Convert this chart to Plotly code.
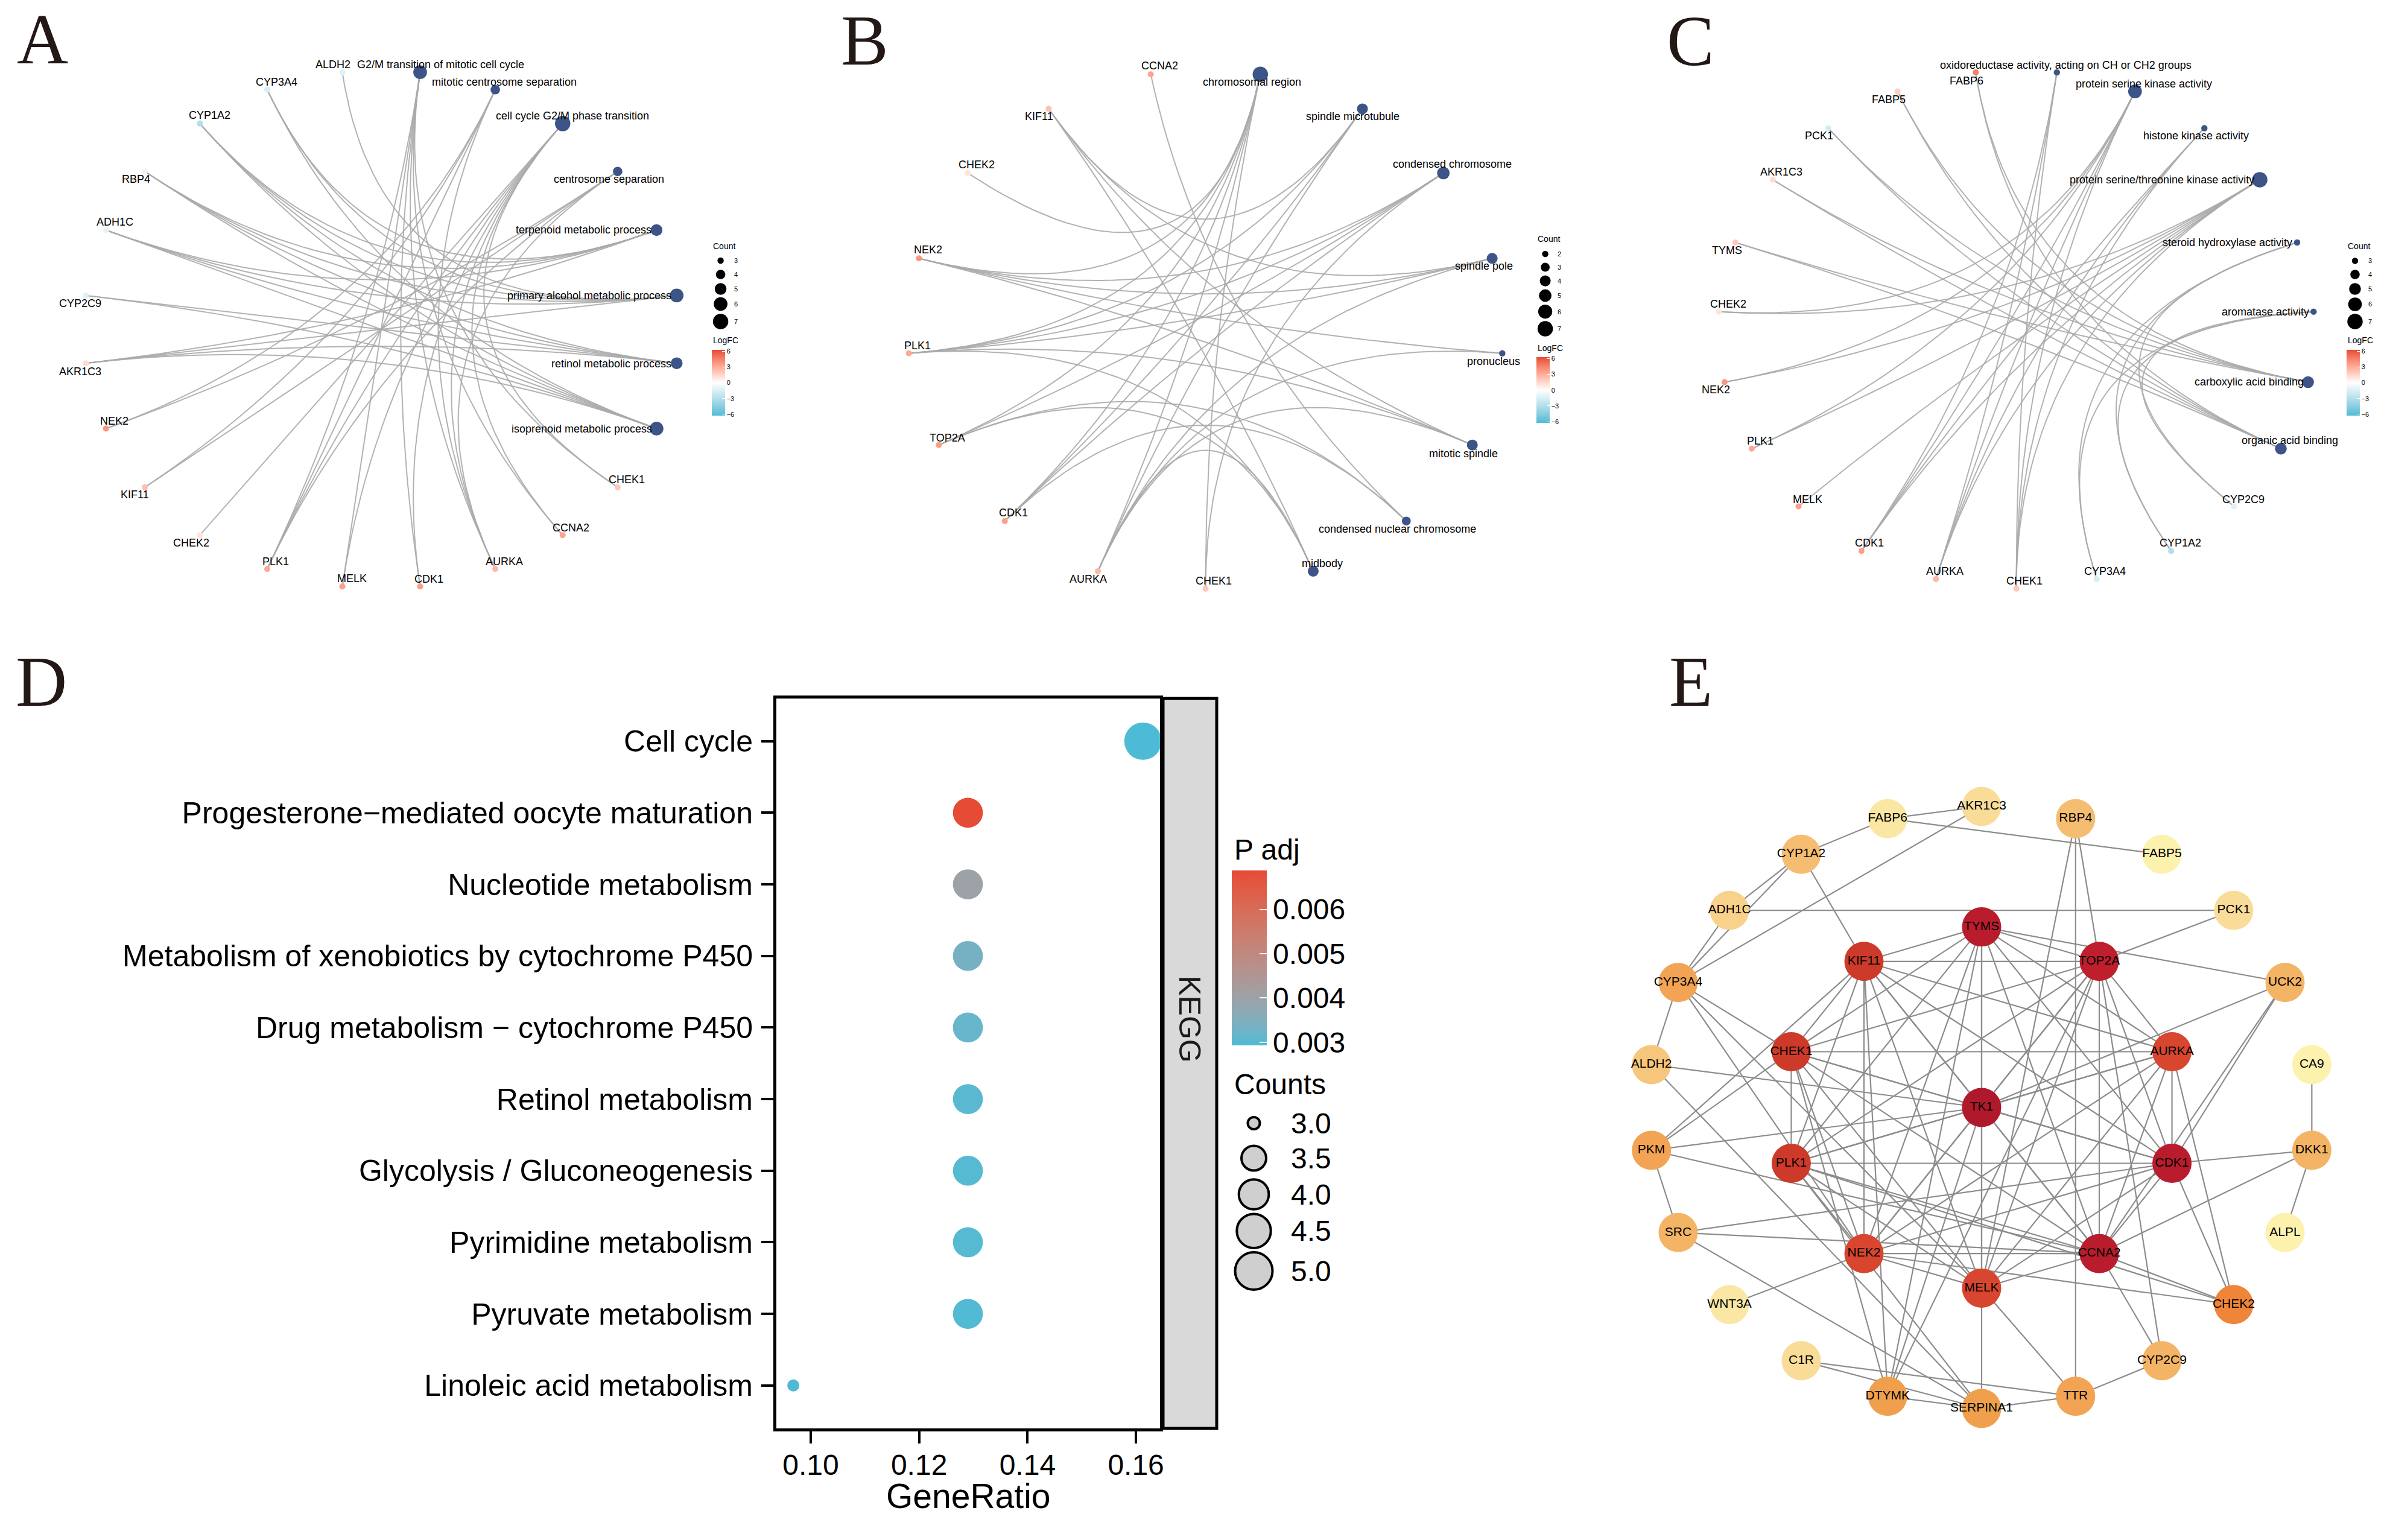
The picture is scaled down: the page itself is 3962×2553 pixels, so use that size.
import math
import plotly.graph_objects as go

W, H = 3962, 2553

# ===================== DATA =====================
# gene log fold changes (shared by panels A-C)
genes_all = ["ALDH2", "CYP3A4", "CYP1A2", "RBP4", "ADH1C", "CYP2C9", "AKR1C3", "NEK2",
             "KIF11", "CHEK2", "PLK1", "MELK", "CDK1", "AURKA", "CCNA2", "CHEK1",
             "TOP2A", "TYMS", "PCK1", "FABP5", "FABP6"]
logfc_all = [-1.2, -1.6, -3.0, -0.8, -1.1, -1.3, 1.3, 3.8,
             2.3, 1.0, 3.2, 3.5, 3.5, 2.6, 3.3, 2.0,
             3.6, 2.0, -1.8, 1.8, 4.6]

# Panel A: GO biological process
a_terms = ["G2/M transition of mitotic cell cycle", "mitotic centrosome separation",
           "cell cycle G2/M phase transition", "centrosome separation",
           "terpenoid metabolic process", "primary alcohol metabolic process",
           "retinol metabolic process", "isoprenoid metabolic process"]
a_genes = ["CHEK1", "CCNA2", "AURKA", "CDK1", "MELK", "PLK1", "CHEK2", "KIF11",
           "NEK2", "AKR1C3", "CYP2C9", "ADH1C", "RBP4", "CYP1A2", "CYP3A4", "ALDH2"]
a_members = [
    ["CHEK1", "CCNA2", "AURKA", "CDK1", "MELK", "PLK1"],
    ["PLK1", "KIF11", "NEK2", "AURKA"],
    ["CHEK1", "CCNA2", "AURKA", "CDK1", "MELK", "PLK1", "CHEK2"],
    ["PLK1", "KIF11", "NEK2", "AURKA"],
    ["AKR1C3", "ADH1C", "RBP4", "CYP1A2", "CYP3A4"],
    ["AKR1C3", "ADH1C", "RBP4", "CYP1A2", "CYP3A4", "ALDH2"],
    ["AKR1C3", "CYP2C9", "ADH1C", "RBP4", "CYP1A2"],
    ["AKR1C3", "CYP2C9", "ADH1C", "RBP4", "CYP1A2", "CYP3A4"],
]
a_count_breaks = [3, 4, 5, 6, 7]

# Panel B: GO cellular component
b_terms = ["chromosomal region", "spindle microtubule", "condensed chromosome", "spindle pole",
           "pronucleus", "mitotic spindle", "condensed nuclear chromosome", "midbody"]
b_genes = ["CHEK1", "AURKA", "CDK1", "TOP2A", "PLK1", "NEK2", "CHEK2", "KIF11", "CCNA2"]
b_members = [
    ["CHEK1", "AURKA", "CDK1", "TOP2A", "PLK1", "NEK2", "CHEK2"],
    ["AURKA", "CDK1", "PLK1", "KIF11"],
    ["CHEK1", "CDK1", "TOP2A", "PLK1", "NEK2"],
    ["AURKA", "PLK1", "NEK2", "KIF11"],
    ["NEK2", "AURKA"],
    ["AURKA", "PLK1", "NEK2", "KIF11"],
    ["CDK1", "TOP2A", "CCNA2"],
    ["AURKA", "TOP2A", "PLK1", "KIF11"],
]
b_count_breaks = [2, 3, 4, 5, 6, 7]

# Panel C: GO molecular function
c_terms = ["oxidoreductase activity, acting on CH or CH2 groups", "protein serine kinase activity",
           "histone kinase activity", "protein serine/threonine kinase activity",
           "steroid hydroxylase activity", "aromatase activity",
           "carboxylic acid binding", "organic acid binding"]
c_genes = ["CYP2C9", "CYP1A2", "CYP3A4", "CHEK1", "AURKA", "CDK1", "MELK", "PLK1",
           "NEK2", "CHEK2", "TYMS", "AKR1C3", "PCK1", "FABP5", "FABP6"]
c_members = [
    ["AURKA", "CDK1", "CHEK1"],
    ["CHEK1", "AURKA", "CDK1", "PLK1", "NEK2", "CHEK2"],
    ["AURKA", "CDK1", "CHEK1"],
    ["CHEK1", "AURKA", "CDK1", "MELK", "PLK1", "NEK2", "CHEK2"],
    ["CYP2C9", "CYP1A2", "CYP3A4"],
    ["CYP2C9", "CYP1A2", "CYP3A4"],
    ["FABP6", "FABP5", "PCK1", "AKR1C3", "TYMS"],
    ["FABP6", "FABP5", "PCK1", "AKR1C3", "TYMS"],
]
c_count_breaks = [3, 4, 5, 6, 7]

# Panel D: KEGG dot plot
kegg_terms = ["Cell cycle", "Progesterone\u2212mediated oocyte maturation", "Nucleotide metabolism",
              "Metabolism of xenobiotics by cytochrome P450", "Drug metabolism \u2212 cytochrome P450",
              "Retinol metabolism", "Glycolysis / Gluconeogenesis", "Pyrimidine metabolism",
              "Pyruvate metabolism", "Linoleic acid metabolism"]
kegg_ratio = [0.1613, 0.1290, 0.1290, 0.1290, 0.1290, 0.1290, 0.1290, 0.1290, 0.1290, 0.0968]
kegg_count = [5, 4, 4, 4, 4, 4, 4, 4, 4, 3]
kegg_padj = [0.00293, 0.00688, 0.00400, 0.00335, 0.00318, 0.00305, 0.00300, 0.00300, 0.00298, 0.00296]
d_xticks = [0.10, 0.12, 0.14, 0.16]
d_padj_ticks = [0.003, 0.004, 0.005, 0.006]
d_count_breaks = [3.0, 3.5, 4.0, 4.5, 5.0]

# Panel E: PPI network
e_hub = "TK1"
e_ring1 = ["TYMS", "TOP2A", "AURKA", "CDK1", "CCNA2", "MELK", "NEK2", "PLK1", "CHEK1", "KIF11"]
e_ring2 = ["AKR1C3", "RBP4", "FABP5", "PCK1", "UCK2", "CA9", "DKK1", "ALPL", "CHEK2", "CYP2C9",
           "TTR", "SERPINA1", "DTYMK", "C1R", "WNT3A", "SRC", "PKM", "ALDH2", "CYP3A4", "ADH1C",
           "CYP1A2", "FABP6"]
e_degree_nodes = ["TK1", "TYMS", "TOP2A", "AURKA", "CDK1", "CCNA2", "MELK", "NEK2", "PLK1", "CHEK1",
                  "KIF11", "AKR1C3", "RBP4", "FABP5", "PCK1", "UCK2", "CA9", "DKK1", "ALPL", "CHEK2",
                  "CYP2C9", "TTR", "SERPINA1", "DTYMK", "C1R", "WNT3A", "SRC", "PKM", "ALDH2",
                  "CYP3A4", "ADH1C", "CYP1A2", "FABP6"]
e_degree = [23, 22, 21, 18, 22, 22, 18, 18, 19, 19,
            19, 3, 6, 1, 3, 7, 1, 7, 1, 12,
            7, 9, 10, 10, 3, 2, 7, 9, 5,
            9, 4, 6, 2]
e_links = {
    "TK1": "TYMS TOP2A AURKA CDK1 CCNA2 MELK NEK2 PLK1 CHEK1 KIF11 ALDH2 PKM DTYMK UCK2",
    "TYMS": "TOP2A AURKA CDK1 CCNA2 MELK NEK2 PLK1 CHEK1 KIF11 DTYMK UCK2",
    "TOP2A": "AURKA CDK1 CCNA2 MELK NEK2 PLK1 CHEK1 KIF11 DTYMK CYP2C9 PCK1 RBP4",
    "AURKA": "CDK1 CCNA2 MELK NEK2 PLK1 CHEK1 KIF11 CHEK2",
    "CDK1": "CCNA2 MELK NEK2 PLK1 CHEK1 KIF11 SRC CHEK2 DKK1 UCK2",
    "CCNA2": "MELK NEK2 PLK1 CHEK1 KIF11 PKM SRC CHEK2 DKK1 UCK2 CYP2C9",
    "MELK": "NEK2 PLK1 CHEK1 KIF11 CYP3A4 SERPINA1 TTR RBP4",
    "NEK2": "PLK1 CHEK1 KIF11 CYP3A4 WNT3A CHEK2",
    "PLK1": "CHEK1 KIF11 SERPINA1 CHEK2",
    "CHEK1": "KIF11 PKM DTYMK CYP3A4",
    "KIF11": "CYP1A2 PKM DTYMK",
    "AKR1C3": "FABP6 CYP3A4",
    "FABP6": "FABP5 CYP1A2",
    "CYP1A2": "ADH1C CYP3A4",
    "ADH1C": "CYP3A4 PCK1",
    "ALDH2": "CYP3A4 SERPINA1",
    "PKM": "SRC",
    "SRC": "SERPINA1",
    "C1R": "SERPINA1 TTR",
    "DTYMK": "SERPINA1",
    "SERPINA1": "TTR",
    "TTR": "RBP4 CYP2C9",
    "DKK1": "CA9 ALPL",
}

# ===================== STYLE / GEOMETRY =====================
FONT = "Liberation Sans, Arial, Helvetica, sans-serif"
SERIF = "Liberation Serif, Times New Roman, serif"
TERM_COL = "#3C5488"
LOW, MID, HIGH = "#4DBBD5", "#FFFFFF", "#E64B35"


def hex2rgb(h):
    h = h.lstrip('#')
    return tuple(int(h[i:i + 2], 16) for i in (0, 2, 4))


def _lin(c):
    c = c / 255.0
    return c / 12.92 if c <= 0.04045 else ((c + 0.055) / 1.055) ** 2.4


def _gam(c):
    c = 12.92 * c if c <= 0.0031308 else 1.055 * (max(c, 0) ** (1 / 2.4)) - 0.055
    return int(max(0, min(255, round(c * 255))))


def rgb2lab(rgb):
    r, g, b = [_lin(v) for v in rgb]
    X = (0.4124 * r + 0.3576 * g + 0.1805 * b) / 0.95047
    Y = (0.2126 * r + 0.7152 * g + 0.0722 * b)
    Z = (0.0193 * r + 0.1192 * g + 0.9505 * b) / 1.08883

    def f(t):
        return t ** (1 / 3) if t > 216 / 24389 else (24389 / 27 * t + 16) / 116
    fx, fy, fz = f(X), f(Y), f(Z)
    return (116 * fy - 16, 500 * (fx - fy), 200 * (fy - fz))


def lab2hex(lab):
    L, a, b = lab
    fy = (L + 16) / 116
    fx = fy + a / 500
    fz = fy - b / 200

    def finv(t):
        return t ** 3 if t ** 3 > 216 / 24389 else (116 * t - 16) / (24389 / 27)
    X = finv(fx) * 0.95047
    Y = finv(fy)
    Z = finv(fz) * 1.08883
    r = 3.2406 * X - 1.5372 * Y - 0.4986 * Z
    g = -0.9689 * X + 1.8758 * Y + 0.0415 * Z
    bb = 0.0557 * X - 0.2040 * Y + 1.0570 * Z
    return '#%02x%02x%02x' % (_gam(r), _gam(g), _gam(bb))


def ramp(c1, c2, t):
    l1 = rgb2lab(hex2rgb(c1))
    l2 = rgb2lab(hex2rgb(c2))
    return lab2hex(tuple(l1[i] + (l2[i] - l1[i]) * t for i in range(3)))


fc_scale = []
for i in range(21):
    t = i / 20
    col = ramp(LOW, MID, t / 0.5) if t < 0.5 else ramp(MID, HIGH, (t - 0.5) / 0.5)
    fc_scale.append([t, col])
padj_scale = [[i / 20, ramp(LOW, HIGH, i / 20)] for i in range(21)]
FC_LIM = 6.25

e_scale = [[0.0, "#FCF2AE"], [0.09, "#F9DC98"], [0.18, "#F7C67E"], [0.27, "#F4B465"],
           [0.36, "#F2A455"], [0.41, "#F0A04D"], [0.5, "#EE8538"], [0.77, "#D9472F"],
           [0.82, "#CE3A2A"], [0.91, "#BF1F2D"], [1.0, "#B0192C"]]


def px(x):
    return x / W


def py(y):
    return 1 - y / H


fc_of = dict(zip(genes_all, logfc_all))

fig = go.Figure()
layout = dict(width=W, height=H, margin=dict(l=0, r=0, t=0, b=0, autoexpand=False),
              paper_bgcolor="white", plot_bgcolor="rgba(0,0,0,0)", showlegend=False)
annotations = []
shapes = []

# full-figure pixel axes for legend keys
layout["xaxis6"] = dict(domain=[0, 1], range=[0, W], visible=False, anchor="y6", fixedrange=True)
layout["yaxis6"] = dict(domain=[0, 1], range=[H, 0], visible=False, anchor="x6", fixedrange=True)


def ring_pos(names, start=None, r=1.0):
    n = len(names)
    step = 360.0 / n
    if start is None:
        start = 90 - step / 2
    out = {}
    for k, nm in enumerate(names):
        th = math.radians(start - step * k)
        out[nm] = (r * math.cos(th), r * math.sin(th))
    return out


SXU, SYU = 494.0, 430.0   # px per unit of the circular layout
HW, HH = 600.0, 540.0


def size_fn(c, lo, hi, dmin=10.5, dmax=25.5):
    return math.sqrt(dmin ** 2 + (dmax ** 2 - dmin ** 2) * (c - lo) / (hi - lo))


label_off = {
    1: {"ALDH2": (-16, -13), "CYP3A4": (16, -13), "CYP1A2": (16, -14), "RBP4": (-15, 13),
        "ADH1C": (15, -13), "CYP2C9": (-9, 13), "AKR1C3": (-9, 14), "NEK2": (14, -13),
        "KIF11": (-17, 12), "CHEK2": (-14, 13), "PLK1": (14, -12), "MELK": (16, -13),
        "CDK1": (15, -12), "AURKA": (15, -12), "CCNA2": (14, -12), "CHEK1": (15, -13),
        "G2/M transition of mitotic cell cycle": (34, -13), "mitotic centrosome separation": (15, -13),
        "cell cycle G2/M phase transition": (16, -13), "centrosome separation": (-14, 13),
        "terpenoid metabolic process": (-121, 0), "primary alcohol metabolic process": (-145, 0),
        "retinol metabolic process": (-108, 1), "isoprenoid metabolic process": (-124, 0)},
    2: {"CCNA2": (15, -14), "KIF11": (-16, 13), "CHEK2": (15, -14), "NEK2": (15, -14),
        "PLK1": (14, -13), "TOP2A": (14, -12), "CDK1": (14, -14), "AURKA": (-16, 13),
        "CHEK1": (13, -13), "chromosomal region": (-14, 13), "spindle microtubule": (-16, 13),
        "condensed chromosome": (15, -15), "spindle pole": (-14, 13), "pronucleus": (-14, 13),
        "mitotic spindle": (-15, 14), "condensed nuclear chromosome": (-15, 13), "midbody": (15, -13)},
    3: {"FABP6": (-15, 14), "oxidoreductase activity, acting on CH or CH2 groups": (15, -12),
        "FABP5": (-15, 13), "PCK1": (-15, 13), "AKR1C3": (14, -13), "TYMS": (-14, 13),
        "CHEK2": (15, -13), "NEK2": (-14, 13), "PLK1": (14, -13), "MELK": (15, -12),
        "CDK1": (13, -13), "AURKA": (15, -13), "CHEK1": (13, -13),
        "protein serine kinase activity": (15, -13), "histone kinase activity": (-14, 13),
        "protein serine/threonine kinase activity": (-162, 0), "steroid hydroxylase activity": (-115, 0),
        "aromatase activity": (-80, 0), "carboxylic acid binding": (-98, 0),
        "organic acid binding": (15, -14), "CYP2C9": (15, -12), "CYP1A2": (15, -13), "CYP3A4": (14, -13)},
}

cnet_specs = [
    (1, a_terms, a_genes, a_members, (632, 546), a_count_breaks,
     dict(cx=1180, ty=408, kx=1194.6, ky=[432, 455, 479, 504, 533], lx=1215,
          fcy=564, cbx=1180, cby=634.5)),
    (2, b_terms, b_genes, b_members, (1998.5, 546), b_count_breaks,
     dict(cx=2547, ty=396, kx=2561.6, ky=[421, 443, 465.6, 490, 516.6, 545], lx=2580,
          fcy=577, cbx=2547, cby=646.75)),
    (3, c_terms, c_genes, c_members, (3342.5, 546), c_count_breaks,
     dict(cx=3890, ty=408, kx=3904, ky=[432.4, 455, 479, 504.5, 533], lx=3924,
          fcy=564, cbx=3890, cby=634.5)),
]

for idx, terms, genes, members, (cx, cy), breaks, lg in cnet_specs:
    xn = "x" if idx == 1 else f"x{idx}"
    yn = "y" if idx == 1 else f"y{idx}"
    xa = "xaxis" if idx == 1 else f"xaxis{idx}"
    ya = "yaxis" if idx == 1 else f"yaxis{idx}"
    ca = "coloraxis" if idx == 1 else f"coloraxis{idx}"
    layout[xa] = dict(domain=[px(cx - HW), px(cx + HW)], range=[-HW / SXU, HW / SXU],
                      visible=False, anchor=yn, fixedrange=True)
    layout[ya] = dict(domain=[py(cy + HH), py(cy - HH)], range=[-HH / SYU, HH / SYU],
                      visible=False, anchor=xn, fixedrange=True)
    nodes = list(terms) + list(genes)
    pos = ring_pos(nodes)
    lo, hi = breaks[0], breaks[-1]
    ex, ey = [], []
    for term, mem in zip(terms, members):
        x0, y0 = pos[term]
        for g in mem:
            x2, y2 = pos[g]
            for k in range(41):
                t = k / 40
                ex.append((1 - t) ** 2 * x0 + t ** 2 * x2)
                ey.append((1 - t) ** 2 * y0 + t ** 2 * y2)
            ex.append(None)
            ey.append(None)
    fig.add_trace(go.Scatter(x=ex, y=ey, mode="lines", xaxis=xn, yaxis=yn, hoverinfo="skip",
                             line=dict(color="rgba(170,170,170,0.9)", width=2)))
    fig.add_trace(go.Scatter(x=[pos[g][0] for g in genes], y=[pos[g][1] for g in genes],
                             mode="markers", xaxis=xn, yaxis=yn, hoverinfo="skip", cliponaxis=False,
                             marker=dict(size=10, color=[fc_of[g] for g in genes], coloraxis=ca,
                                         opacity=1, line=dict(width=0))))
    counts = [len(m) for m in members]
    fig.add_trace(go.Scatter(x=[pos[t][0] for t in terms], y=[pos[t][1] for t in terms],
                             mode="markers", xaxis=xn, yaxis=yn, hoverinfo="skip", cliponaxis=False,
                             marker=dict(size=[size_fn(c, lo, hi) for c in counts], color=TERM_COL,
                                         opacity=1, line=dict(width=0))))
    for nm in nodes:
        dx, dy = label_off[idx].get(nm, (0, -14))
        annotations.append(dict(x=pos[nm][0], y=pos[nm][1], xref=xn, yref=yn, text=nm,
                                showarrow=False, xshift=dx, yshift=-dy, xanchor="center",
                                yanchor="middle", font=dict(family=FONT, size=18, color="black")))
    layout[ca] = dict(colorscale=fc_scale, cmin=-FC_LIM, cmax=FC_LIM,
                      colorbar=dict(x=px(lg["cbx"]), xanchor="left", y=py(lg["cby"]), yanchor="middle",
                                    thickness=22, thicknessmode="pixels", len=109, lenmode="pixels",
                                    xpad=0, ypad=0, outlinewidth=0, borderwidth=0,
                                    tickvals=[6, 3, 0, -3, -6],
                                    ticktext=["6", "3", "0", "\u22123", "\u22126"],
                                    ticks="inside", ticklen=5, tickcolor="white", tickwidth=1,
                                    tickfont=dict(family=FONT, size=11, color="black")))
    annotations.append(dict(x=px(lg["cx"]), y=py(lg["ty"]), xref="paper", yref="paper", text="Count",
                            showarrow=False, xanchor="left", yanchor="middle",
                            font=dict(family=FONT, size=14, color="black")))
    annotations.append(dict(x=px(lg["cx"]), y=py(lg["fcy"]), xref="paper", yref="paper", text="LogFC",
                            showarrow=False, xanchor="left", yanchor="middle",
                            font=dict(family=FONT, size=14, color="black")))
    fig.add_trace(go.Scatter(x=[lg["kx"]] * len(breaks), y=lg["ky"], mode="markers", xaxis="x6",
                             yaxis="y6", hoverinfo="skip", cliponaxis=False,
                             marker=dict(size=[size_fn(b, lo, hi) for b in breaks], color="black",
                                         opacity=1, line=dict(width=0))))
    for b, yy in zip(breaks, lg["ky"]):
        annotations.append(dict(x=px(lg["lx"]), y=py(yy), xref="paper", yref="paper", text=str(b),
                                showarrow=False, xanchor="left", yanchor="middle",
                                font=dict(family=FONT, size=11, color="black")))

# ===================== PANEL D =====================
DX0, DX1, DY0, DY1 = 1287, 1923, 1157.5, 2368
layout["xaxis4"] = dict(domain=[px(DX0), px(DX1)], range=[0.09367, 0.16444], anchor="y4",
                        showgrid=False, zeroline=False, showline=True, linewidth=5, linecolor="black",
                        mirror=True, ticks="outside", ticklen=20, tickwidth=4, tickcolor="black",
                        tickvals=d_xticks, ticktext=["%.2f" % v for v in d_xticks], ticklabelstandoff=-6,
                        tickfont=dict(family=FONT, size=48, color="black"), fixedrange=True)
layout["yaxis4"] = dict(domain=[py(DY1), py(DY0)], range=[10.6, 0.4], anchor="x4",
                        showgrid=False, zeroline=False, showline=True, linewidth=5, linecolor="black",
                        mirror=True, ticks="outside", ticklen=20, tickwidth=4, tickcolor="black",
                        tickvals=list(range(1, len(kegg_terms) + 1)), ticktext=kegg_terms,
                        ticklabelstandoff=4,
                        tickfont=dict(family=FONT, size=50, color="black"), fixedrange=True)


def dsize(c):
    return 20 + 42 * math.sqrt((c - 3.0) / 2.0)


fig.add_trace(go.Scatter(x=kegg_ratio, y=list(range(1, len(kegg_terms) + 1)), mode="markers",
                         xaxis="x4", yaxis="y4", hoverinfo="skip", cliponaxis=False,
                         marker=dict(size=[dsize(c) for c in kegg_count], color=kegg_padj,
                                     coloraxis="coloraxis4", opacity=1, line=dict(width=0))))
layout["coloraxis4"] = dict(colorscale=padj_scale, cmin=min(kegg_padj), cmax=max(kegg_padj),
                            colorbar=dict(x=px(2042), xanchor="left", y=py(1588), yanchor="middle",
                                          thickness=58, thicknessmode="pixels", len=290, lenmode="pixels",
                                          xpad=0, ypad=0, outlinewidth=0, borderwidth=0,
                                          tickvals=d_padj_ticks, ticktext=["%.3f" % v for v in d_padj_ticks],
                                          ticks="inside", ticklen=12, tickcolor="white", tickwidth=2,
                                          tickfont=dict(family=FONT, size=48, color="black")))
shapes.append(dict(type="rect", xref="paper", yref="paper", x0=px(1928), x1=px(2017),
                   y0=py(DY1), y1=py(DY0), fillcolor="#D9D9D9", line=dict(color="black", width=5)))
annotations.append(dict(x=px(1972.5), y=py(1762.7), xref="paper", yref="paper", text="KEGG",
                        textangle=90, showarrow=False, font=dict(family=FONT, size=50, color="#1A1A1A")))
annotations.append(dict(x=px(1605), y=py(2514), xref="paper", yref="paper", text="GeneRatio",
                        showarrow=False, font=dict(family=FONT, size=57, color="black")))
annotations.append(dict(x=px(2043.7), y=py(1408.6), xref="paper", yref="paper", text="P adj",
                        showarrow=False, xanchor="left", yanchor="middle",
                        font=dict(family=FONT, size=48, color="black")))
annotations.append(dict(x=px(2043.7), y=py(1797), xref="paper", yref="paper", text="Counts",
                        showarrow=False, xanchor="left", yanchor="middle",
                        font=dict(family=FONT, size=48, color="black")))
d_leg_y = [1862, 1920, 1980, 2040.7, 2107]
fig.add_trace(go.Scatter(x=[2078.5] * len(d_count_breaks), y=d_leg_y, mode="markers", xaxis="x6",
                         yaxis="y6", hoverinfo="skip", cliponaxis=False,
                         marker=dict(size=[dsize(c) for c in d_count_breaks], color="#CFCFCF",
                                     opacity=1, line=dict(color="black", width=4))))
for c, yy in zip(d_count_breaks, d_leg_y):
    annotations.append(dict(x=px(2137.5), y=py(yy), xref="paper", yref="paper", text="%.1f" % c,
                            showarrow=False, xanchor="left", yanchor="middle",
                            font=dict(family=FONT, size=48, color="black")))

# ===================== PANEL E =====================
ECX, ECY, ESX, ESY = 3285.0, 1836.0, 553.0, 499.0
EHW, EHH = 670.0, 610.0
layout["xaxis5"] = dict(domain=[px(ECX - EHW), px(ECX + EHW)], range=[-EHW / ESX, EHW / ESX],
                        visible=False, anchor="y5", fixedrange=True)
layout["yaxis5"] = dict(domain=[py(ECY + EHH), py(ECY - EHH)], range=[-EHH / ESY, EHH / ESY],
                        visible=False, anchor="x5", fixedrange=True)
e_pos = {e_hub: (0.0, 0.0)}
e_pos.update(ring_pos(e_ring1, start=90, r=0.6))
e_pos.update(ring_pos(e_ring2, start=90, r=1.0))
lx, ly = [], []
for a, targets in e_links.items():
    for b in targets.split():
        lx += [e_pos[a][0], e_pos[b][0], None]
        ly += [e_pos[a][1], e_pos[b][1], None]
fig.add_trace(go.Scatter(x=lx, y=ly, mode="lines", xaxis="x5", yaxis="y5", hoverinfo="skip",
                         line=dict(color="#8C8C8C", width=2.2)))
fig.add_trace(go.Scatter(x=[e_pos[n][0] for n in e_degree_nodes], y=[e_pos[n][1] for n in e_degree_nodes],
                         mode="markers+text", text=e_degree_nodes, textposition="middle center",
                         textfont=dict(family=FONT, size=21, color="black"),
                         xaxis="x5", yaxis="y5", hoverinfo="skip", cliponaxis=False,
                         marker=dict(size=65, color=e_degree, colorscale=e_scale, cmin=min(e_degree),
                                     cmax=max(e_degree), showscale=False, opacity=1, line=dict(width=0))))

# ===================== panel letters =====================
for letter, (lxp, lyp) in zip("ABCDE", [(70, 65), (1433, 67), (2802, 68), (68, 1130), (2803, 1130)]):
    annotations.append(dict(x=px(lxp), y=py(lyp), xref="paper", yref="paper", text=letter,
                            showarrow=False, xanchor="center", yanchor="middle",
                            font=dict(family=SERIF, size=118, color="#231815")))

layout["annotations"] = annotations
layout["shapes"] = shapes
fig.update_layout(**layout)
fig.write_html("out.html", config={"displayModeBar": False, "staticPlot": True},
               post_script="document.body.style.margin='0px';document.body.style.overflow='hidden';")
